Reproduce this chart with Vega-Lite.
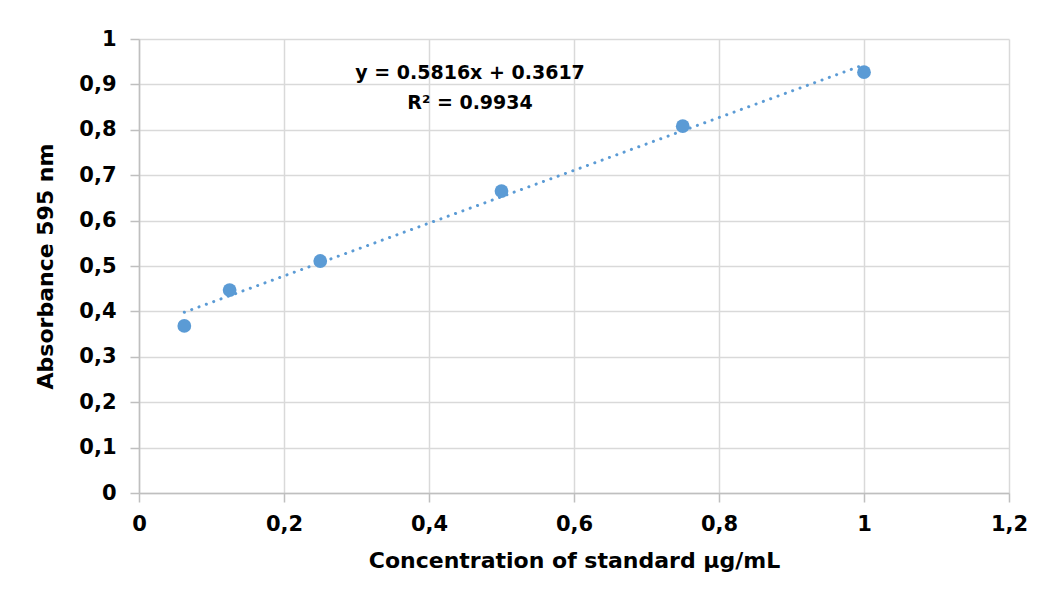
{
  "$schema": "https://vega.github.io/schema/vega-lite/v6.json",
  "width": 870,
  "height": 454,
  "autosize": {"type": "none"},
  "padding": {"left": 139, "top": 39, "right": 35, "bottom": 112},
  "background": "white",
  "config": {
    "locale": {"number": {"decimal": ",", "thousands": ".", "grouping": [3], "currency": ["", " €"]}},
    "font": "DejaVu Sans",
    "view": {"stroke": null},
    "axis": {
      "labelFont": "DejaVu Sans",
      "labelFontWeight": "bold",
      "labelFontSize": 21,
      "labelColor": "#000000",
      "labelFlush": false,
      "labelOverlap": false,
      "titleFont": "DejaVu Sans",
      "titleFontWeight": "bold",
      "titleFontSize": 22,
      "titleColor": "#000000",
      "gridColor": "#d9d9d9",
      "gridWidth": 1.5,
      "domainColor": "#bfbfbf",
      "domainWidth": 1.5,
      "tickColor": "#bfbfbf",
      "tickWidth": 1.5,
      "tickSize": 9
    }
  },
  "datasets": {
    "points": [
      {"conc": 0.0625, "abs": 0.368},
      {"conc": 0.125, "abs": 0.447},
      {"conc": 0.25, "abs": 0.511},
      {"conc": 0.5, "abs": 0.665},
      {"conc": 0.75, "abs": 0.808},
      {"conc": 1.0, "abs": 0.927}
    ],
    "trend": [
      {"conc": 0.0625, "abs": 0.3981},
      {"conc": 1.0, "abs": 0.9433}
    ],
    "notes": [
      {"conc": 0.4566, "abs": 0.925, "label": "y = 0.5816x + 0.3617"},
      {"conc": 0.4566, "abs": 0.860, "label": "R² = 0.9934"}
    ]
  },
  "layer": [
    {
      "data": {"name": "trend"},
      "mark": {"type": "line", "color": "#5b9bd5", "strokeWidth": 3, "strokeCap": "round", "strokeDash": [0.1, 7.7]},
      "encoding": {
        "x": {
          "field": "conc", "type": "quantitative",
          "scale": {"domain": [0, 1.2], "nice": false, "zero": false},
          "axis": {"values": [0, 0.2, 0.4, 0.6, 0.8, 1, 1.2], "format": ".1~f", "labelPadding": 11, "titlePadding": 16, "title": "Concentration of standard µg/mL"}
        },
        "y": {
          "field": "abs", "type": "quantitative",
          "scale": {"domain": [0, 1], "nice": false, "zero": false},
          "axis": {"values": [0, 0.1, 0.2, 0.3, 0.4, 0.5, 0.6, 0.7, 0.8, 0.9, 1], "format": ".1~f", "labelPadding": 14, "titlePadding": 21, "title": "Absorbance 595 nm"}
        }
      }
    },
    {
      "data": {"name": "points"},
      "mark": {"type": "circle", "color": "#5b9bd5", "opacity": 1, "size": 190},
      "encoding": {
        "x": {"field": "conc", "type": "quantitative"},
        "y": {"field": "abs", "type": "quantitative"}
      }
    },
    {
      "data": {"name": "notes"},
      "mark": {"type": "text", "font": "DejaVu Sans", "fontWeight": "bold", "fontSize": 19, "color": "#000000", "align": "center", "baseline": "middle"},
      "encoding": {
        "x": {"field": "conc", "type": "quantitative"},
        "y": {"field": "abs", "type": "quantitative"},
        "text": {"field": "label"}
      }
    }
  ]
}
